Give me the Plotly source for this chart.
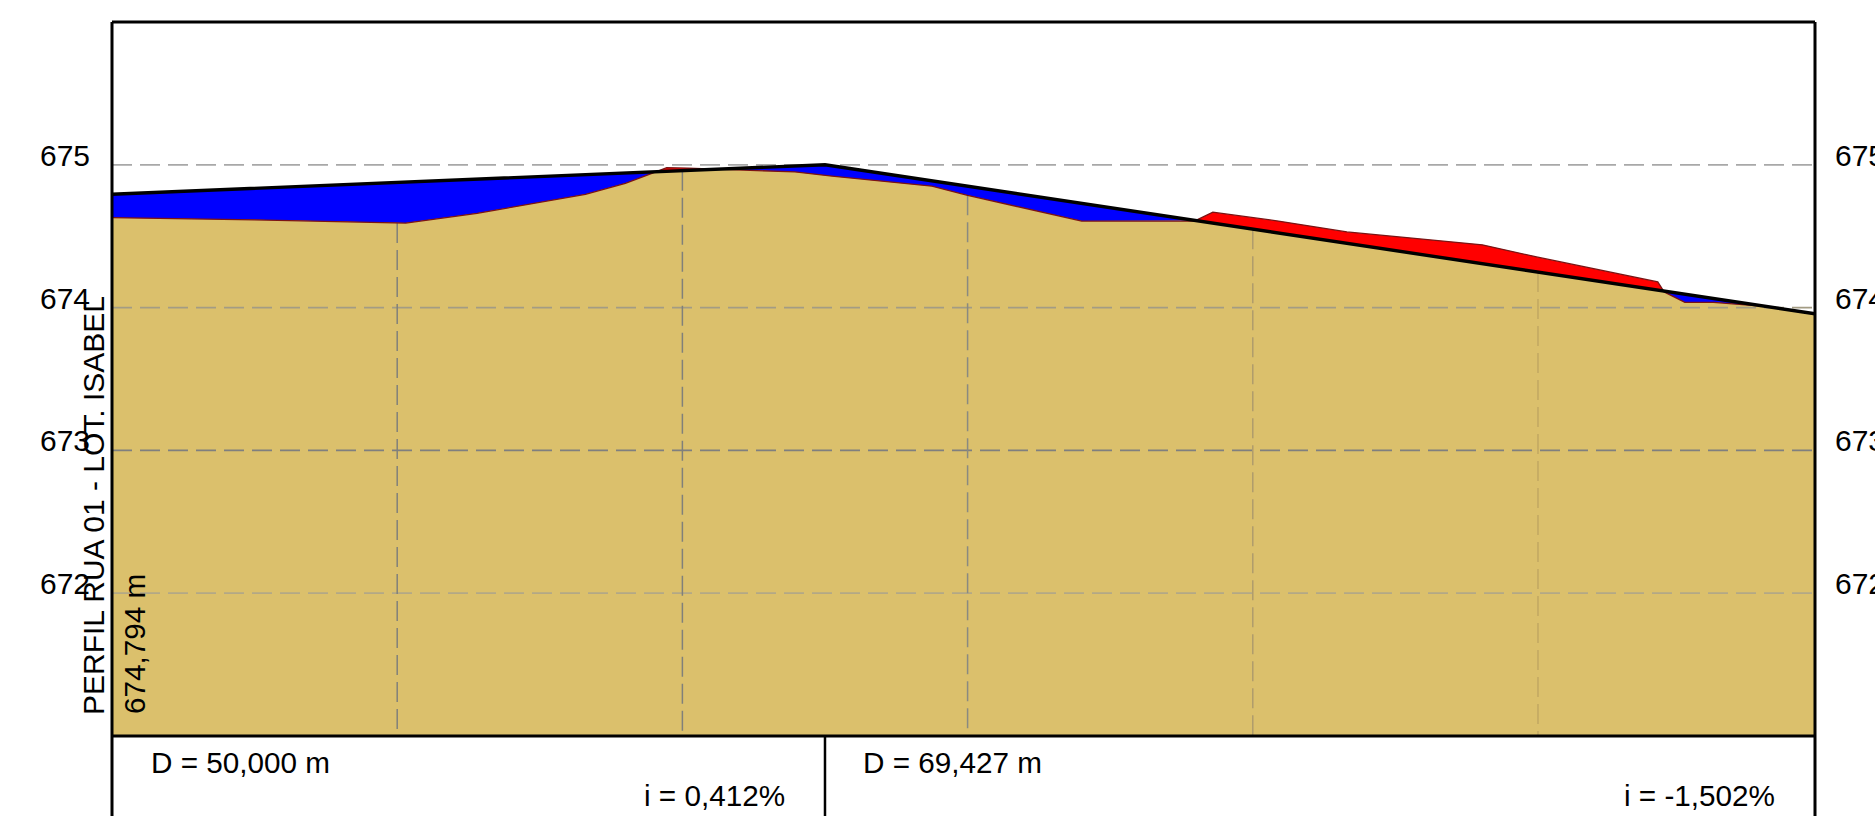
import numpy as np
import plotly.graph_objects as go

# Data
terrain_station = [0, 10, 20.6, 25.6, 33.2, 36.0, 38.0, 38.9, 40.4, 42.9, 47.9, 50.5, 57.5, 60, 68, 75.9,
                   77.2, 81.8, 86.6, 96.1, 99.9, 108.4, 108.85, 110.3, 112.3, 115.7, 119.427]
terrain_elev = [674.63, 674.615, 674.592, 674.66, 674.793, 674.87, 674.945, 674.98, 674.977, 674.968, 674.95,
                674.92, 674.85, 674.786, 674.606, 674.606, 674.668, 674.606, 674.53, 674.44, 674.355,
                674.18, 674.11, 674.037, 674.037, 674.01, 673.955]
grade_station = [0, 50, 119.427]
grade_elev = [674.794, 675.0, 673.957]
grid_elev = [675, 674, 673, 672]
grid_station = [20, 40, 60, 80, 100]
tick_labels = ["675", "674", "673", "672"]
segment_lengths = [50.0, 69.427]
distance_labels = ["D = 50,000 m", "D = 69,427 m"]
slope_labels = ["i = 0,412%", "i = -1,502%"]
title_label = "PERFIL RUA 01 - LOT. ISABEL"
start_label = "674,794 m"

# Layout constants (pixels in the 1875x816 page)
W, H = 1875, 816
L, R, T, B = 112, 1815, 22, 736
X_MAX = sum(segment_lengths)
FONT = "Liberation Sans"
TAN, BLUE, RED = "#DBC06C", "#0000FF", "#FF0000"
grid_colors = ["#A8A8A8", "#A39C84", "#7F7F7F", "#B3A886"]
vgrid_colors = ["#80807A", "#80807A", "#8A8A80", "#B09C6C", "#C2A862"]


def px(x):
    return (x - L) / (R - L)


def py(y):
    return (B - y) / (B - T)


# Lower envelope of terrain and grade, including their crossings
ts = np.array(terrain_station, float)
te = np.array(terrain_elev, float)
gs = np.array(grade_station, float)
ge = np.array(grade_elev, float)
st = np.union1d(ts, gs)
d = np.interp(st, ts, te) - np.interp(st, gs, ge)
cross = [st[i] + (st[i + 1] - st[i]) * d[i] / (d[i] - d[i + 1])
         for i in range(len(st) - 1) if d[i] * d[i + 1] < 0]
st = np.union1d(st, cross)
low = np.minimum(np.interp(st, ts, te), np.interp(st, gs, ge))

fig = go.Figure()


def fill(x, y, color):
    fig.add_trace(go.Scatter(x=x, y=y, mode="lines", fill="tozeroy", fillcolor=color,
                             line=dict(width=0), hoverinfo="skip", showlegend=False))


fill(grade_station, grade_elev, BLUE)
fill(terrain_station, terrain_elev, RED)
fill(st, low, TAN)

for v, c in zip(grid_elev, grid_colors):
    fig.add_trace(go.Scatter(x=[0, X_MAX], y=[v, v], mode="lines",
                             line=dict(color=c, width=1.8, dash="20px,8px"),
                             hoverinfo="skip", showlegend=False))
for s, c in zip(grid_station, vgrid_colors):
    top = min(np.interp(s, ts, te), np.interp(s, gs, ge))
    fig.add_trace(go.Scatter(x=[s, s], y=[top, 671], mode="lines",
                             line=dict(color=c, width=1.5, dash="20px,7px"),
                             hoverinfo="skip", showlegend=False))

fig.add_trace(go.Scatter(x=terrain_station, y=terrain_elev, mode="lines",
                         line=dict(color="#7A1414", width=1.3), hoverinfo="skip", showlegend=False))
fig.add_trace(go.Scatter(x=grade_station, y=grade_elev, mode="lines",
                         line=dict(color="#000000", width=3.4), hoverinfo="skip", showlegend=False))

annotations = []


def text(x, y, s, size=29.7, angle=0, anchor="left", yref="paper", yshift=0):
    annotations.append(dict(x=x, y=y, xref="paper", yref=yref, text=s, showarrow=False,
                            xanchor=anchor, yanchor="middle", textangle=angle, yshift=yshift,
                            font=dict(family=FONT, size=size, color="black"),
                            borderpad=0, align="left"))


for v, s in zip(grid_elev, tick_labels):
    text(px(39), v, s, size=30, yref="y", yshift=9.5)
    text(px(1834), v, s, size=30, yref="y", yshift=9.5)

text(px(93), py(506), title_label, size=30, angle=-90, anchor="center")
text(px(134), py(644), start_label, angle=-90, anchor="center")
text(px(149.5), py(762), distance_labels[0])
text(px(861.5), py(762), distance_labels[1])
text(px(643), py(795), slope_labels[0])
text(px(1622.5), py(795), slope_labels[1])

shapes = []
for x in [0, segment_lengths[0] / X_MAX, 1]:
    top = 1 if x in (0, 1) else 0
    shapes.append(dict(type="line", xref="paper", yref="paper", x0=x, x1=x, y0=top, y1=py(H + 5),
                       line=dict(color="black", width=3 if top else 2.5)))
for y in [0, 1]:
    shapes.append(dict(type="line", xref="paper", yref="paper", x0=0, x1=1, y0=y, y1=y,
                       line=dict(color="black", width=3)))

fig.update_layout(
    width=W, height=H, autosize=False,
    margin=dict(l=L, r=W - R, t=T, b=H - B, pad=0),
    paper_bgcolor="white", plot_bgcolor="white",
    showlegend=False,
    annotations=annotations, shapes=shapes,
    xaxis=dict(range=[0, X_MAX], showgrid=False, zeroline=False, showticklabels=False, ticks="",
               showline=False),
    yaxis=dict(range=[671, 676], showgrid=False, zeroline=False, showticklabels=False, ticks="",
               showline=False),
)
fig.write_html("out.html", config={"displayModeBar": False},
               post_script="document.body.style.margin='0';document.body.style.overflow='hidden';")
